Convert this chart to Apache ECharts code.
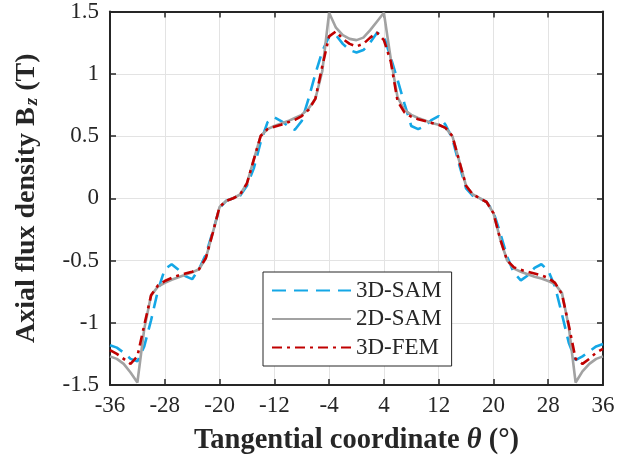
<!DOCTYPE html>
<html><head><meta charset="utf-8">
<script src="https://cdn.jsdelivr.net/npm/echarts@6/dist/echarts.min.js"></script>
<style>html,body{margin:0;padding:0;background:#fff}#c{width:634px;height:462px}</style>
</head><body><div id="c"></div>
<script>
// Tangential coordinate (deg)
const theta = [-36,-35,-34,-33,-32,-31,-30,-29,-28,-27,-26,-25,-24,-23,-22,-21,-20,-19,-18,-17,-16,-15,-14,-13,-12,-11,-10,-9,-8,-7,-6,-5,-4,-3,-2,-1,
  0,1,2,3,4,5,6,7,8,9,10,11,12,13,14,15,16,17,18,19,20,21,22,23,24,25,26,27,28,29,30,31,32,33,34,35,36];
// 3D-SAM
const sam3d = [-1.18,-1.20,-1.24,-1.29,-1.31,-1.19,-0.98,-0.74,-0.57,-0.53,-0.575,-0.625,-0.65,-0.57,-0.45,-0.27,-0.08,-0.02,0.00,0.02,0.10,0.24,0.45,0.61,0.65,0.62,0.58,0.55,0.62,0.80,1.00,1.18,1.30,1.31,1.24,1.19,
  1.17,1.19,1.25,1.33,1.30,1.13,0.95,0.76,0.58,0.555,0.58,0.63,0.66,0.59,0.48,0.27,0.08,0.02,0.00,-0.03,-0.11,-0.28,-0.47,-0.60,-0.66,-0.62,-0.56,-0.53,-0.58,-0.71,-0.93,-1.16,-1.30,-1.27,-1.23,-1.19,-1.17];
// 2D-SAM
const sam2d = [-1.27,-1.29,-1.33,-1.40,-1.48,-1.05,-0.78,-0.71,-0.68,-0.655,-0.635,-0.615,-0.595,-0.57,-0.48,-0.28,-0.07,-0.02,0.00,0.03,0.12,0.31,0.50,0.555,0.58,0.60,0.62,0.645,0.67,0.72,0.80,1.02,1.49,1.37,1.31,1.28,
  1.27,1.29,1.35,1.42,1.49,1.12,0.81,0.71,0.67,0.645,0.625,0.605,0.59,0.565,0.50,0.30,0.10,0.03,0.00,-0.03,-0.12,-0.33,-0.50,-0.565,-0.59,-0.61,-0.63,-0.645,-0.665,-0.69,-0.76,-1.03,-1.48,-1.39,-1.33,-1.29,-1.27];
// 3D-FEM
const fem3d = [-1.22,-1.25,-1.29,-1.33,-1.27,-1.02,-0.78,-0.70,-0.665,-0.64,-0.62,-0.605,-0.59,-0.57,-0.48,-0.28,-0.07,-0.02,0.00,0.03,0.12,0.31,0.50,0.555,0.575,0.59,0.61,0.63,0.66,0.71,0.80,1.06,1.30,1.34,1.28,1.24,
  1.22,1.24,1.29,1.33,1.27,1.10,0.78,0.69,0.655,0.635,0.62,0.605,0.59,0.565,0.50,0.30,0.10,0.03,0.00,-0.03,-0.12,-0.33,-0.50,-0.555,-0.575,-0.59,-0.605,-0.62,-0.64,-0.68,-0.77,-1.02,-1.29,-1.33,-1.29,-1.24,-1.21];
const seriesNames = ['3D-SAM','2D-SAM','3D-FEM'];
const xMin = -36, xMax = 36, xStep = 8;
const yMin = -1.5, yMax = 1.5, yStep = 0.5;

const FONT = 'Liberation Serif';
const INK = '#262626';
const pts = arr => theta.map((t, i) => [t, arr[i]]);
const chart = echarts.init(document.getElementById('c'), null, {renderer: 'canvas'});
const axisCommon = {
  axisLine: {show: true, onZero: false, lineStyle: {color: INK, width: 2}},
  axisTick: {show: true, inside: true, length: 6, lineStyle: {color: INK, width: 1.5}},
};
chart.setOption({
  animation: false,
  backgroundColor: '#fff',
  grid: {left: 110, right: 31, top: 11, bottom: 77, containLabel: false},
  legend: {
    orient: 'vertical', left: 263, top: 272,
    icon: 'inherit',
    itemWidth: 79, itemHeight: 22, itemGap: 5.5,
    padding: [7, 10, 7, 8],
    borderColor: INK, borderWidth: 1, backgroundColor: '#fff',
    itemStyle: {opacity: 0},
    textStyle: {fontFamily: FONT, fontSize: 23, color: INK},
    data: seriesNames
  },
  xAxis: [{
    type: 'value', min: xMin, max: xMax, interval: xStep, position: 'bottom',
    ...axisCommon,
    axisLabel: {fontFamily: FONT, fontSize: 23, color: INK, margin: 9},
    splitLine: {show: true, lineStyle: {color: '#e3e3e3', width: 1}},
    name: 'Tangential coordinate {i|θ} (°)', nameLocation: 'middle', nameGap: 41,
    nameTextStyle: {fontFamily: FONT, fontSize: 28.5, fontWeight: 'bold', color: INK,
      rich: {i: {fontFamily: FONT, fontSize: 28.5, fontWeight: 'bold', fontStyle: 'italic', color: INK}}}
  }, {
    type: 'value', min: xMin, max: xMax, interval: xStep, position: 'top',
    ...axisCommon, axisLabel: {show: false}, splitLine: {show: false}
  }],
  yAxis: [{
    type: 'value', min: yMin, max: yMax, interval: yStep, position: 'left',
    ...axisCommon,
    axisLabel: {fontFamily: FONT, fontSize: 23, color: INK, margin: 11},
    splitLine: {show: true, lineStyle: {color: '#e3e3e3', width: 1}},
    name: 'Axial flux density B{s|z} (T)', nameLocation: 'middle', nameGap: 68, nameRotate: 90,
    nameTextStyle: {fontFamily: FONT, fontSize: 28, fontWeight: 'bold', color: INK,
      rich: {s: {fontFamily: FONT, fontSize: 19, fontWeight: 'bold', fontStyle: 'italic', color: INK, verticalAlign: 'bottom', padding: [12, 0, 0, 2]}}}
  }, {
    type: 'value', min: yMin, max: yMax, interval: yStep, position: 'right',
    ...axisCommon, axisLabel: {show: false}, splitLine: {show: false}
  }],
  series: [
    {name: seriesNames[0], type: 'line', data: pts(sam3d), showSymbol: false, symbol: 'none',
      lineStyle: {color: '#14A7E6', width: 2.6, type: [14, 8]}, itemStyle: {color: '#14A7E6'}, z: 2},
    {name: seriesNames[1], type: 'line', data: pts(sam2d), showSymbol: false, symbol: 'none',
      lineStyle: {color: '#A2A2A2', width: 2.6, type: 'solid'}, itemStyle: {color: '#A2A2A2'}, z: 3},
    {name: seriesNames[2], type: 'line', data: pts(fem3d), showSymbol: false, symbol: 'none',
      lineStyle: {color: '#C00000', width: 2.6, type: [10, 5, 3, 5]}, itemStyle: {color: '#C00000'}, z: 4}
  ]
});
</script></body></html>
